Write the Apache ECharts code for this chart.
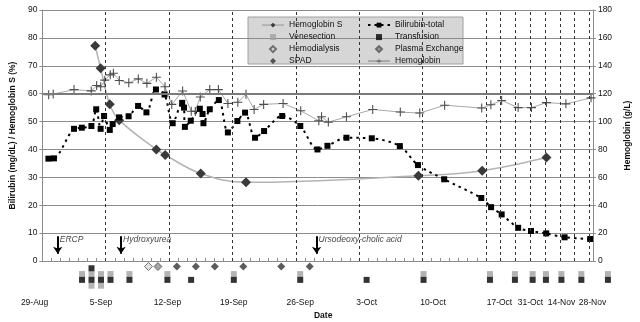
<!DOCTYPE html>
<html>
<head>
<meta charset="utf-8">
<script src="https://cdn.jsdelivr.net/npm/echarts@6/dist/echarts.min.js"></script>
<style>
html,body{margin:0;padding:0;background:#fff}
#main{width:640px;height:322px}
</style>
</head>
<body>
<div id="main"></div>
<script>
// all days are counted from 29-Aug (day 0); after 17-Oct the axis runs in weeks
var tickDays = [0, 7, 14, 21, 28, 35, 42, 49, 63, 77, 91];
var tickLabels = ['29-Aug', '5-Sep', '12-Sep', '19-Sep', '26-Sep', '3-Oct', '10-Oct', '17-Oct', '31-Oct', '14-Nov', '28-Nov'];
var weekLineDays = [7, 14, 21, 28, 35, 42, 49, 56, 63, 70, 77, 84, 91, 98];

var hbDays = [0.7, 1.2, 3.5, 5.4, 6.0, 6.45, 6.9, 7.5, 7.85, 8.5, 9.55, 10.6, 11.55, 12.6, 13.55, 14.3, 15.5, 16.45, 16.9, 17.45, 18.5, 19.45, 20.5, 21.6, 22.5, 23.4, 24.45, 26.6, 28.55, 30.55, 30.85, 31.6, 33.6, 36.5, 39.55, 41.7, 44.45, 48.55, 51.4, 56.5, 64.3, 70.6, 77.7, 86.9, 98.8];
var hbValues = [119.2, 119.7, 122.9, 122.0, 125.8, 124.9, 129.7, 133.5, 134.6, 129.5, 127.8, 130.6, 127.4, 131.8, 124.9, 112.3, 121.9, 107.4, 107.3, 117.6, 122.9, 122.9, 113.0, 113.8, 119.5, 108.7, 112.3, 113.0, 107.7, 100.6, 103.4, 99.6, 103.4, 108.7, 106.8, 106.1, 111.7, 109.7, 112.0, 115.1, 110.0, 110.0, 113.6, 112.7, 117.0];

var bilirubinDays = [0.67, 1.28, 3.5, 4.36, 5.42, 5.95, 6.44, 6.82, 7.45, 7.77, 8.48, 9.53, 10.58, 11.5, 12.55, 13.5, 14.4, 15.45, 15.65, 15.75, 16.4, 17.4, 17.7, 17.8, 18.5, 19.5, 20.5, 21.55, 22.4, 23.5, 24.5, 26.5, 28.5, 30.4, 31.5, 33.6, 36.4, 39.5, 41.5, 44.4, 48.5, 51.5, 56.5, 64.3, 70.4, 77.6, 86.3, 98.4];
var bilirubinValues = [36.7, 36.8, 47.4, 47.8, 48.4, 54.4, 47.4, 52.0, 47.0, 49.1, 51.5, 51.9, 55.6, 53.3, 61.5, 59.7, 49.4, 56.7, 55.0, 48.1, 50.3, 54.6, 52.7, 49.4, 54.4, 57.7, 46.1, 50.2, 53.2, 44.2, 46.6, 52.0, 48.4, 40.0, 41.3, 44.2, 44.0, 41.2, 34.4, 29.3, 22.6, 19.3, 16.7, 11.9, 10.75, 9.9, 8.5, 7.9];

var hbsDays = [5.84, 6.44, 7.45, 8.5, 12.59, 13.57, 17.5, 22.5, 41.55, 48.6, 77.7];
var hbsValues = [77.2, 69.1, 56.2, 50.5, 40.0, 38.0, 31.4, 28.2, 30.6, 32.4, 37.1];

var venesectionDays = [5, 6, 6, 7, 7, 8, 10, 14, 21, 28, 41, 48, 56, 64, 70, 77, 86, 98];
var transfusionDays = [5, 6, 6, 7, 8, 10, 14, 16.5, 21, 28, 35, 41, 48, 56, 64, 70, 77, 86, 98];
var hemodialysisDays = [12];
var plasmaExchangeDays = [13];
var spadDays = [15, 17, 19, 22, 26, 29];

var noteTexts = ['ERCP', 'Hydroxyurea', 'Ursodeoxy-cholic acid'];
var noteDays = [1.7, 8.7, 30.3];
var hbReference = 120;

var WEEK = 1.634;   // width of one week after 17-Oct, in day units
function pos(d) { return d <= 49 ? d : 49 + (d - 49) / 7 * WEEK; }
var xMax = pos(99.7);

var tickPos = tickDays.map(pos);
var dayTicks = [];
for (var i = 0; i <= 49; i++) dayTicks.push(i);
for (var j = 56; j <= 98; j += 7) dayTicks.push(pos(j));

function pairs(days, vals) { return days.map(function (d, k) { return [pos(d), vals[k]]; }); }
// same-day treatments stack in rows of the strip below the chart
function stack(days, levels) {
  var seen = {};
  return days.map(function (d) {
    var n = seen[d] || 0; seen[d] = n + 1;
    return [pos(d), levels[n]];
  });
}
var diamondRow = 2.3;
function row(days) { return days.map(function (d) { return [pos(d), diamondRow]; }); }

var plus = 'path://M4.4,0h1.2v10h-1.2z M0,4.4h10v1.2h-10z';
var square = 'path://M0,0h10v10h-10z';
var diamond = 'path://M5,0L10,5L5,10L0,5z';
var font = 'Liberation Sans, Arial, sans-serif';
var fs = 8.5;

var chart = echarts.init(document.getElementById('main'), null, { renderer: 'canvas' });

var legendText = { fontSize: fs, color: '#111', lineHeight: 11.2, fontFamily: font };

var option = {
  animation: false,
  textStyle: { fontFamily: font },
  graphic: [{
    type: 'rect', z: 0,
    shape: { x: 248, y: 17, width: 215, height: 47 },
    style: { fill: '#d6d6d6', stroke: '#a0a0a0', lineWidth: 1 }
  }],
  legend: [{
    orient: 'vertical', left: 256, top: 14.5, symbolKeepAspect: true,
    itemWidth: 22, itemHeight: 6, itemGap: 0.8, textStyle: legendText,
    data: [
      { name: 'Hemoglobin S' },
      { name: 'Venesection', icon: square },
      { name: 'Hemodialysis', icon: diamond },
      { name: 'SPAD', icon: diamond }
    ]
  }, {
    orient: 'vertical', left: 362, top: 14.5, symbolKeepAspect: true,
    itemWidth: 22, itemHeight: 6, itemGap: 0.8, textStyle: legendText,
    data: [
      { name: 'Bilirubin-total' },
      { name: 'Transfusion', icon: square },
      { name: 'Plasma Exchange', icon: diamond },
      { name: 'Hemoglobin' }
    ]
  }],
  grid: [
    { left: 34.6, right: 28.3, top: 10, height: 251 },
    { left: 34.6, right: 28.3, top: 261, height: 33.4 }
  ],
  xAxis: [{
    type: 'value', gridIndex: 0, min: 0, max: xMax,
    axisLine: { show: true, lineStyle: { color: '#8c8c8c' } },
    axisTick: { show: true, inside: true, length: 3, customValues: dayTicks, lineStyle: { color: '#8c8c8c' } },
    axisLabel: { show: false },
    splitLine: { show: false }
  }, {
    type: 'value', gridIndex: 1, min: 0, max: xMax,
    axisLine: { show: false },
    axisTick: { show: false },
    splitLine: { show: false },
    axisLabel: {
      customValues: tickPos, margin: 4, fontSize: fs, color: '#111',
      formatter: function (v) {
        for (var k = 0; k < tickPos.length; k++) if (Math.abs(tickPos[k] - v) < 1e-6) return tickLabels[k];
        return '';
      }
    },
    name: 'Date', nameLocation: 'middle', nameGap: 17,
    nameTextStyle: { fontWeight: 'bold', fontSize: fs, color: '#111' }
  }],
  yAxis: [{
    type: 'value', gridIndex: 0, min: 0, max: 90, interval: 10,
    axisLine: { show: true, lineStyle: { color: '#8c8c8c' } },
    axisTick: { show: true, length: 3, lineStyle: { color: '#8c8c8c' } },
    axisLabel: { fontSize: fs, color: '#111', margin: 5 },
    splitLine: { lineStyle: { color: '#8c8c8c', width: 1 } },
    name: 'Bilirubin (mg/dL) / Hemoglobin S (%)', nameLocation: 'middle', nameGap: 21,
    nameTextStyle: { fontWeight: 'bold', fontSize: fs, color: '#111' }
  }, {
    type: 'value', gridIndex: 0, min: 0, max: 180, interval: 20, position: 'right',
    axisLine: { show: true, lineStyle: { color: '#8c8c8c' } },
    axisTick: { show: true, length: 3, lineStyle: { color: '#8c8c8c' } },
    axisLabel: { fontSize: fs, color: '#111', margin: 5 },
    splitLine: { show: false },
    name: 'Hemoglobin (g/L)', nameLocation: 'middle', nameGap: 21,
    nameTextStyle: { fontWeight: 'bold', fontSize: fs, color: '#111' }
  }, {
    type: 'value', gridIndex: 1, min: -2.5, max: 3.25, show: false
  }],
  series: [{
    name: 'Hemoglobin', type: 'line', xAxisIndex: 0, yAxisIndex: 1,
    data: pairs(hbDays, hbValues),
    symbol: plus, symbolSize: 9,
    itemStyle: { color: '#4d4d4d' },
    lineStyle: { color: '#a8a8a8', width: 1 },
    markLine: {
      silent: true, symbol: 'none', label: { show: false },
      lineStyle: { color: '#7a7a7a', width: 2, type: 'solid' },
      data: [{ yAxis: hbReference }]
    }
  }, {
    name: 'Hemoglobin S', type: 'line', xAxisIndex: 0, yAxisIndex: 0,
    data: pairs(hbsDays, hbsValues), smooth: 0.4,
    symbol: 'diamond', symbolSize: 10,
    itemStyle: { color: '#3a3a3a' },
    lineStyle: { color: '#b4b4b4', width: 1.5 }
  }, {
    name: 'Bilirubin-total', type: 'line', xAxisIndex: 0, yAxisIndex: 0,
    data: pairs(bilirubinDays, bilirubinValues), smooth: 0.3,
    symbol: 'rect', symbolSize: 6,
    itemStyle: { color: '#000' },
    lineStyle: { color: '#000', width: 2, type: [2.5, 4] },
    markLine: {
      silent: true, symbol: 'none', label: { show: false },
      lineStyle: { color: '#333', width: 1, type: [3, 3] },
      data: weekLineDays.map(function (d) { return { xAxis: pos(d) }; })
    }
  }, {
    name: 'notes', type: 'scatter', xAxisIndex: 0, yAxisIndex: 0,
    data: noteDays.map(function (d, k) { return { name: noteTexts[k], value: [pos(d), 7.6] }; }),
    symbolSize: 0,
    label: {
      show: true, position: 'right', distance: 2, formatter: '{b}',
      fontStyle: 'italic', fontSize: fs, color: '#111', fontFamily: font
    },
    markLine: {
      silent: true, symbol: ['none', 'arrow'], symbolSize: 7, label: { show: false },
      lineStyle: { color: '#000', width: 2, type: 'solid' },
      data: noteDays.map(function (d) { return [{ coord: [pos(d), 8.9] }, { coord: [pos(d), 2.6] }]; })
    }
  }, {
    name: 'Venesection', type: 'scatter', xAxisIndex: 1, yAxisIndex: 2,
    data: stack(venesectionDays, [1, -1]),
    symbol: 'rect', symbolSize: 6, itemStyle: { color: '#a0a0a0' }
  }, {
    name: 'Transfusion', type: 'scatter', xAxisIndex: 1, yAxisIndex: 2,
    data: stack(transfusionDays, [0, 2]),
    symbol: 'rect', symbolSize: 6, itemStyle: { color: '#000' }
  }, {
    name: 'Hemodialysis', type: 'scatter', xAxisIndex: 1, yAxisIndex: 2,
    data: row(hemodialysisDays),
    symbol: 'diamond', symbolSize: 8,
    itemStyle: { color: '#d8d8d8', borderColor: '#555', borderWidth: 1 }
  }, {
    name: 'Plasma Exchange', type: 'scatter', xAxisIndex: 1, yAxisIndex: 2,
    data: row(plasmaExchangeDays),
    symbol: 'diamond', symbolSize: 8,
    itemStyle: { color: '#8c8c8c', borderColor: '#555', borderWidth: 1 }
  }, {
    name: 'SPAD', type: 'scatter', xAxisIndex: 1, yAxisIndex: 2,
    data: row(spadDays),
    symbol: 'diamond', symbolSize: 8,
    itemStyle: { color: '#333' }
  }]
};

chart.setOption(option);
</script>
</body>
</html>
